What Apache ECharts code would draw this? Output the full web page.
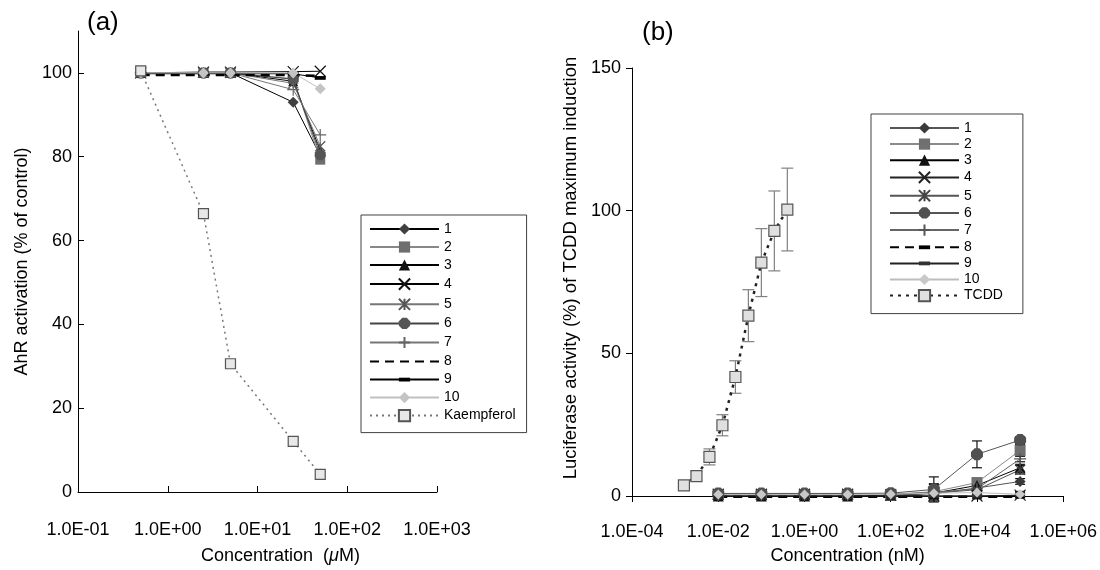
<!DOCTYPE html>
<html>
<head>
<meta charset="utf-8">
<script src="https://cdn.jsdelivr.net/npm/echarts@6/dist/echarts.min.js"></script>
<style>
  html, body { margin: 0; padding: 0; background: #fff; }
  #chart { width: 1100px; height: 570px; }
</style>
</head>
<body>
<div id="chart"></div>
<script>
// ---- panel (a): AhR activation, concentration in uM ----
var concA = [0.5, 2.5, 5, 25, 50];
var compoundNames = ['1', '2', '3', '4', '5', '6', '7', '8', '9', '10'];
var valuesA = [
  [100, 100, 100, 93, 80.3],
  [100, 100, 100, 98.6, 79.3],
  [100, 100, 100, 98, 81.5],
  [100, 100.2, 100.2, 100.3, 100.4],
  [100, 100, 100, 97.5, 82.5],
  [100, 100, 100, 98.5, 80.5],
  [100, 100, 100, 96, 85.2],
  [99.5, 99.5, 99.5, 99.5, 99.3],
  [99.8, 99.8, 99.8, 99.8, 98.8],
  [100, 100, 100, 100, 96.2]
];
var kaempferol = [100.5, 66.4, 30.6, 12.1, 4.2];
var xTicksA = [0.1, 1, 10, 100, 1000];
var yTicksA = [0, 20, 40, 60, 80, 100];

// ---- panel (b): luciferase activity, concentration in nM ----
var concB = [0.01, 0.1, 1, 10, 100, 1000, 10000, 100000];
var valuesB = [
  [0.3, 0.3, 0.3, 0.3, 0.4, 0.8, 2.8, 5.1],
  [0.5, 0.5, 0.5, 0.5, 0.6, 1.5, 4.7, 16],
  [0, 0, 0, 0, 0.3, 1, 3.7, 9.9],
  [0.6, 0.6, 0.6, 0.6, 0.3, 0, 0, 0.3],
  [0.5, 0.5, 0.5, 0.5, 0.5, 1, 2.2, 9.2],
  [0.9, 0.9, 0.9, 0.9, 1, 2.3, 14.6, 19.6],
  [0.3, 0.3, 0.3, 0.3, 0.5, 1.3, 2.5, 13],
  [-0.3, -0.3, -0.3, -0.3, -0.3, -0.3, -0.3, -0.3],
  [0, 0, 0, 0, 0, 0, 0, 0.2],
  [0.5, 0.5, 0.5, 0.5, 0.6, 1, 1.2, 0.6]
];
var errB = [
  [0, 0, 0, 0, 0, 1.5, 1, 1],
  [0, 0, 0, 0, 0, 2.5, 1.5, 2],
  [0, 0, 0, 0, 0, 2, 1.2, 1.2],
  [0, 0, 0, 0, 0, 1, 1, 1],
  [0, 0, 0, 0, 0, 1.5, 1, 1.5],
  [0, 0, 0, 0, 0, 4.4, 4.7, 1.2],
  [0, 0, 0, 0, 0, 3, 1, 1],
  [0, 0, 0, 0, 0, 0, 0, 0],
  [0, 0, 0, 0, 0, 0, 0, 0.5],
  [0, 0, 0, 0, 0, 1, 0.8, 1]
];
var tcddConc = [0.0016, 0.003125, 0.00625, 0.0125, 0.025, 0.05, 0.1, 0.2, 0.4];
var tcdd = [3.7, 7.0, 13.7, 24.8, 41.7, 63.2, 81.8, 92.9, 100.4];
var tcddErr = [0.6, 1.5, 2.8, 3.7, 5.7, 9.1, 11.9, 14, 14.5];
var xTicksB = [0.0001, 0.01, 1, 100, 10000, 1000000];
var yTicksB = [0, 50, 100, 150];

var FONT = 'Liberation Sans, Arial, sans-serif';
var X_PATH = 'path://M0,0L10,10M0,10L10,0';
var STAR_PATH = 'path://M0,0L10,10M0,10L10,0M5,0L5,10';
var PLUS_PATH = 'path://M5,0L5,10M0,5L10,5';
var OCT_PATH = 'path://M3,0L7,0L10,3L10,7L7,10L3,10L0,7L0,3Z';
// flat bar inside a 10x10 box (the moves keep the box square)
var BAR_PATH = 'path://M0,0M0,3.3L10,3.3L10,6.7L0,6.7Z M10,10';
var NO_MARK = 'path://M0,0M10,10';

// marker/line looks for compounds 1..10
var looksA = [
  { line: '#000', sym: 'diamond', size: 11, fill: '#404040' },
  { line: '#888', sym: 'rect', size: 10, fill: '#6e6e6e' },
  { line: '#000', sym: 'triangle', size: 10, fill: '#111' },
  { line: '#000', sym: X_PATH, size: 11, stroke: '#111' },
  { line: '#777', sym: STAR_PATH, size: 10, stroke: '#555' },
  { line: '#444', sym: OCT_PATH, size: 11, fill: '#555' },
  { line: '#777', sym: PLUS_PATH, size: 12, stroke: '#666' },
  { line: '#000', sym: NO_MARK, size: 10, fill: '#000', width: 2.5, dash: [9, 6] },
  { line: '#000', sym: BAR_PATH, size: 11, fill: '#000' },
  { line: '#c0c0c0', sym: 'diamond', size: 11, fill: '#c4c4c4' }
];
var looksB = [
  { line: '#555', sym: 'diamond', size: 11, fill: '#3a3a3a' },
  { line: '#8a8a8a', sym: 'rect', size: 11, fill: '#707070' },
  { line: '#000', sym: 'triangle', size: 11, fill: '#111' },
  { line: '#222', sym: X_PATH, size: 11, stroke: '#222' },
  { line: '#555', sym: STAR_PATH, size: 10, stroke: '#444' },
  { line: '#555', sym: OCT_PATH, size: 12, fill: '#505050' },
  { line: '#666', sym: PLUS_PATH, size: 12, stroke: '#555' },
  { line: '#000', sym: BAR_PATH, size: 9, fill: '#000', width: 2.5, dash: [9, 6] },
  { line: '#222', sym: BAR_PATH, size: 10, fill: '#333' },
  { line: '#bdbdbd', sym: 'diamond', size: 10, fill: '#c8c8c8' }
];

function fmtExp(v) {
  var e = Math.round(Math.log(v) / Math.LN10);
  var a = Math.abs(e);
  return '1.0E' + (e < 0 ? '-' : '+') + (a < 10 ? '0' : '') + a;
}

function pairs(xs, ys) {
  return xs.map(function (x, i) { return [x, ys[i]]; });
}

function lineSeries(name, idx, xs, ys, look) {
  var item = look.stroke
    ? { color: 'none', borderColor: look.stroke, borderWidth: 1.2 }
    : { color: look.fill, borderWidth: 0 };
  return {
    name: name, type: 'line', xAxisIndex: idx, yAxisIndex: idx,
    data: pairs(xs, ys),
    symbol: look.sym, symbolSize: look.size,
    lineStyle: { color: look.line, width: look.width || 1, type: look.dash || 'solid' },
    itemStyle: item,
    clip: false
  };
}

function errorBars(name, idx, xs, ys, es, capW, color) {
  return {
    name: name, type: 'custom', xAxisIndex: idx, yAxisIndex: idx,
    encode: { x: 0, y: 1 },
    data: xs.map(function (x, i) { return [x, ys[i], es[i]]; }),
    renderItem: function (params, api) {
      var x = api.value(0), y = api.value(1), e = api.value(2);
      if (!e) return null;
      var hi = api.coord([x, y + e]);
      var lo = api.coord([x, y - e]);
      var s = { stroke: color, lineWidth: 1.2 };
      return {
        type: 'group',
        children: [
          { type: 'line', shape: { x1: hi[0], y1: hi[1], x2: lo[0], y2: lo[1] }, style: s },
          { type: 'line', shape: { x1: hi[0] - capW / 2, y1: hi[1], x2: hi[0] + capW / 2, y2: hi[1] }, style: s },
          { type: 'line', shape: { x1: lo[0] - capW / 2, y1: lo[1], x2: lo[0] + capW / 2, y2: lo[1] }, style: s }
        ]
      };
    }
  };
}

var series = [];
// error bars go first so the markers sit on top
series.push(errorBars('errTCDD', 1, tcddConc, tcdd, tcddErr, 12, '#808080'));
compoundNames.forEach(function (n, i) {
  series.push(errorBars('errB' + n, 1, concB, valuesB[i], errB[i], 10, '#111'));
});
compoundNames.forEach(function (n, i) {
  series.push(lineSeries('a' + n, 0, concA, valuesA[i], looksA[i]));
});
series.push(lineSeries('aKaempferol', 0, concA, kaempferol,
  { line: '#777', sym: 'rect', size: 10, width: 1.5, dash: [2, 4], fill: '#e8e8e8' }));
series[series.length - 1].itemStyle = { color: '#e8e8e8', borderColor: '#555', borderWidth: 1.2 };
compoundNames.forEach(function (n, i) {
  series.push(lineSeries('b' + n, 1, concB, valuesB[i], looksB[i]));
});
series.push(lineSeries('bTCDD', 1, tcddConc, tcdd,
  { line: '#222', sym: 'rect', size: 11, width: 2.5, dash: [3, 5], fill: '#e0e0e0' }));
series[series.length - 1].itemStyle = { color: '#e0e0e0', borderColor: '#555', borderWidth: 1.2 };

var axisLine = { show: true, lineStyle: { color: '#000', width: 1 } };
var labelText = { color: '#000', fontSize: 18, fontFamily: FONT };
var stripPrefix = function (n) { return n.replace(/^[ab]/, ''); };

var chart = echarts.init(document.getElementById('chart'), null, { renderer: 'canvas' });
chart.setOption({
  animation: false,
  backgroundColor: '#fff',
  textStyle: { fontFamily: FONT },
  grid: [
    { left: 78, top: 31, width: 359, height: 462 },
    { left: 632, top: 68, width: 432, height: 429 }
  ],
  xAxis: [
    {
      gridIndex: 0, type: 'log', logBase: 10, min: 0.1, max: 1000,
      axisLine: axisLine,
      axisTick: { show: true, inside: true, length: 6, lineStyle: { color: '#000' }, customValues: xTicksA },
      axisLabel: Object.assign({ margin: 29, formatter: fmtExp, customValues: xTicksA }, labelText),
      splitLine: { show: false }, minorTick: { show: false },
      name: 'Concentration  ({i|\u03bc}M)', nameLocation: 'middle', nameGap: 55,
      nameTextStyle: Object.assign({ padding: [0, 0, 0, 46], rich: { i: { fontStyle: 'italic', fontSize: 18, fontFamily: FONT } } }, labelText)
    },
    {
      gridIndex: 1, type: 'log', logBase: 10, min: 0.0001, max: 1000000,
      axisLine: axisLine,
      axisTick: { show: true, inside: false, length: 6, lineStyle: { color: '#000' }, customValues: xTicksB },
      axisLabel: Object.assign({ margin: 27, formatter: fmtExp, customValues: xTicksB }, labelText),
      splitLine: { show: false }, minorTick: { show: false },
      name: 'Concentration (nM)', nameLocation: 'middle', nameGap: 51,
      nameTextStyle: labelText
    }
  ],
  yAxis: [
    {
      gridIndex: 0, type: 'value', min: 0, max: 110, interval: 20,
      axisLine: axisLine,
      axisTick: { show: true, inside: true, length: 6, lineStyle: { color: '#000' }, customValues: yTicksA },
      axisLabel: Object.assign({ margin: 6, customValues: yTicksA }, labelText),
      splitLine: { show: false },
      name: 'AhR activation (% of control)', nameLocation: 'middle', nameGap: 47, nameRotate: 90,
      nameTextStyle: labelText
    },
    {
      gridIndex: 1, type: 'value', min: 0, max: 150, interval: 50,
      axisLine: axisLine,
      axisTick: { show: true, inside: false, length: 6, lineStyle: { color: '#000' }, customValues: yTicksB },
      axisLabel: Object.assign({ margin: 11, customValues: yTicksB }, labelText),
      splitLine: { show: false },
      name: 'Luciferase activity (%) of TCDD maximum induction', nameLocation: 'middle', nameGap: 52, nameRotate: 90,
      nameTextStyle: Object.assign({}, labelText, { fontSize: 18.5, padding: [0, 0, 0, 28] })
    }
  ],
  legend: [
    {
      orient: 'vertical', left: 361, top: 215,
      padding: [7, 11, 10, 8], itemWidth: 69, itemHeight: 14, itemGap: 4.0,
      borderColor: '#404040', borderWidth: 1, selectedMode: false,
      textStyle: { fontSize: 14, color: '#000', fontFamily: FONT },
      data: compoundNames.map(function (n) { return 'a' + n; }).concat(['aKaempferol']),
      formatter: stripPrefix
    },
    {
      orient: 'vertical', left: 871, top: 114,
      padding: [7, 20, 11, 18], itemWidth: 69, itemHeight: 14, itemGap: 2.1,
      borderColor: '#404040', borderWidth: 1, selectedMode: false,
      textStyle: { fontSize: 14, color: '#000', fontFamily: FONT },
      data: compoundNames.map(function (n) { return 'b' + n; }).concat(['bTCDD']),
      formatter: stripPrefix
    }
  ],
  graphic: [
    { type: 'text', left: 87, top: 10, style: { text: '(a)', fontSize: 26, fontFamily: FONT, fill: '#000' } },
    { type: 'text', left: 642, top: 20, style: { text: '(b)', fontSize: 26, fontFamily: FONT, fill: '#000' } }
  ],
  series: series
});
window.addEventListener('resize', function () { chart.resize(); });
</script>
</body>
</html>
